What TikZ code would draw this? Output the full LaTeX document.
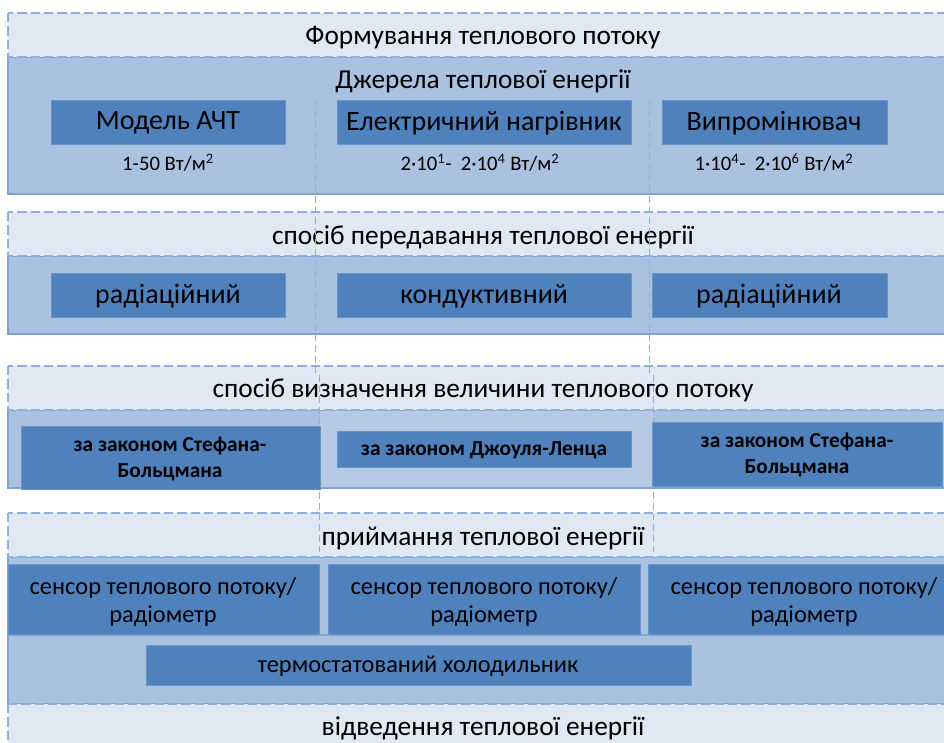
\documentclass[tikz,border=0pt]{standalone}
\usepackage{fontspec}
\setmainfont{Carlito}
\definecolor{lightc}{HTML}{E0E8F3}
\definecolor{medc}{HTML}{AAC1DF}
\definecolor{medlc}{HTML}{B6CAE5}
\definecolor{darkc}{HTML}{4F81BD}
\definecolor{edgec}{HTML}{7FA3D1}
\definecolor{dashc}{HTML}{8DB0DD}
\begin{document}
\begin{tikzpicture}[x=0.75pt,y=-0.75pt,
  hdr/.style={fill=lightc,draw=dashc,dashed,dash pattern=on 7pt off 3pt,line width=0.8pt},
  band/.style={fill=medc,draw=edgec,line width=0.8pt},
  dbox/.style={fill=darkc,draw=darkc!85!white,line width=0.5pt},
  vline/.style={draw=dashc,dash pattern=on 5pt off 3pt,line width=0.7pt},
  ttl/.style={font=\fontsize{20.5}{24}\selectfont,anchor=center,inner sep=0pt},
  btxt/.style={font=\fontsize{21}{24}\selectfont,anchor=center,inner sep=0pt},
  stxt/.style={font=\fontsize{15.5}{18}\selectfont,anchor=center,inner sep=0pt},
  ltxt/.style={font=\bfseries\fontsize{16}{19}\selectfont,align=center,anchor=center,inner sep=0pt},
  ntxt/.style={font=\fontsize{18.3}{20.5}\selectfont,align=center,anchor=center,inner sep=0pt}]
\useasboundingbox (0,0) rectangle (944,742);
\clip (0,0) rectangle (944,742);
\fill[white] (0,0) rectangle (944,742);

% Section 1
\draw[band] (8,57) rectangle (960,194);
\draw[hdr] (8,13) rectangle (960,57);
\node[ttl] (h1) at (483,38) {Формування теплового потоку};
\node[ttl] (t1) at (483,81) {Джерела теплової енергії};

% Section 2
\draw[band] (8,256) rectangle (960,334);
\draw[hdr] (8,212) rectangle (960,256);
\node[ttl] (h2) at (483,237) {спосіб передавання теплової енергії};

% Section 3
\draw[band] (8,410) rectangle (960,488);
\fill[medlc] (320,411) rectangle (653,487);
\draw[hdr] (8,366) rectangle (960,410);
\node[ttl] (h3) at (483,390) {спосіб визначення величини теплового потоку};

% Section 4
\draw[band] (8,557) rectangle (960,635);
\draw[band] (8,635) rectangle (960,704);
\draw[hdr] (8,513) rectangle (960,557);
\node[ttl] (h4) at (483,538) {приймання теплової енергії};

% Section 5
\draw[hdr] (8,704) rectangle (960,770);
\node[ttl] (h5) at (483,728) {відведення теплової енергії};

% dashed verticals
\draw[vline] (315,100) -- (315,375);
\draw[vline] (649,100) -- (649,375);
\draw[vline] (319,375) -- (319,558);
\draw[vline] (653,375) -- (653,558);

% Row 1 boxes
\draw[dbox] (51,100) rectangle (285,144);
\node[btxt] (a1) at (168,123) {Модель АЧТ};
\draw[dbox] (337,100) rectangle (631,144);
\node[btxt] (a2) at (484,123) {Електричний нагрівник};
\draw[dbox] (662,100) rectangle (887,144);
\node[btxt] (a3) at (774,123) {Випромінювач};
\node[stxt] (s1) at (168,163) {1-50 Вт/м\textsuperscript{2}};
\node[stxt] (s2) at (480,163) {2·10\textsuperscript{1}-\ \ 2·10\textsuperscript{4} Вт/м\textsuperscript{2}};
\node[stxt] (s3) at (774,163) {1·10\textsuperscript{4}-\ \ 2·10\textsuperscript{6} Вт/м\textsuperscript{2}};

% Row 2 boxes
\draw[dbox] (51,273) rectangle (285,317);
\node[btxt] (b1) at (168,296) {радіаційний};
\draw[dbox] (337,273) rectangle (631,317);
\node[btxt] (b2) at (484,296) {кондуктивний};
\draw[dbox] (652,273) rectangle (887,317);
\node[btxt] (b3) at (769,296) {радіаційний};

% Row 3 boxes
\draw[dbox] (21,426) rectangle (320,489);
\node[ltxt] (c1) at (170,459) {за законом Стефана-\\Больцмана};
\draw[dbox] (337,431) rectangle (631,467);
\node[ltxt] (c2) at (484,450) {за законом Джоуля-Ленца};
\draw[dbox] (652,422) rectangle (942,486);
\node[ltxt] (c3) at (797,455) {за законом Стефана-\\Больцмана};

% Row 4 boxes
\draw[dbox] (8,564) rectangle (319,634);
\node[ntxt] (d1) at (163,602) {сенсор теплового потоку/\\радіометр};
\draw[dbox] (328,564) rectangle (640,634);
\node[ntxt] (d2) at (484,602) {сенсор теплового потоку/\\радіометр};
\draw[dbox] (648,564) rectangle (960,634);
\node[ntxt] (d3) at (804,602) {сенсор теплового потоку/\\радіометр};

% cooler
\draw[dbox] (146,645) rectangle (691,685);
\node[ntxt] (e1) at (418,666) {термостатований холодильник};
\end{tikzpicture}
\end{document}
